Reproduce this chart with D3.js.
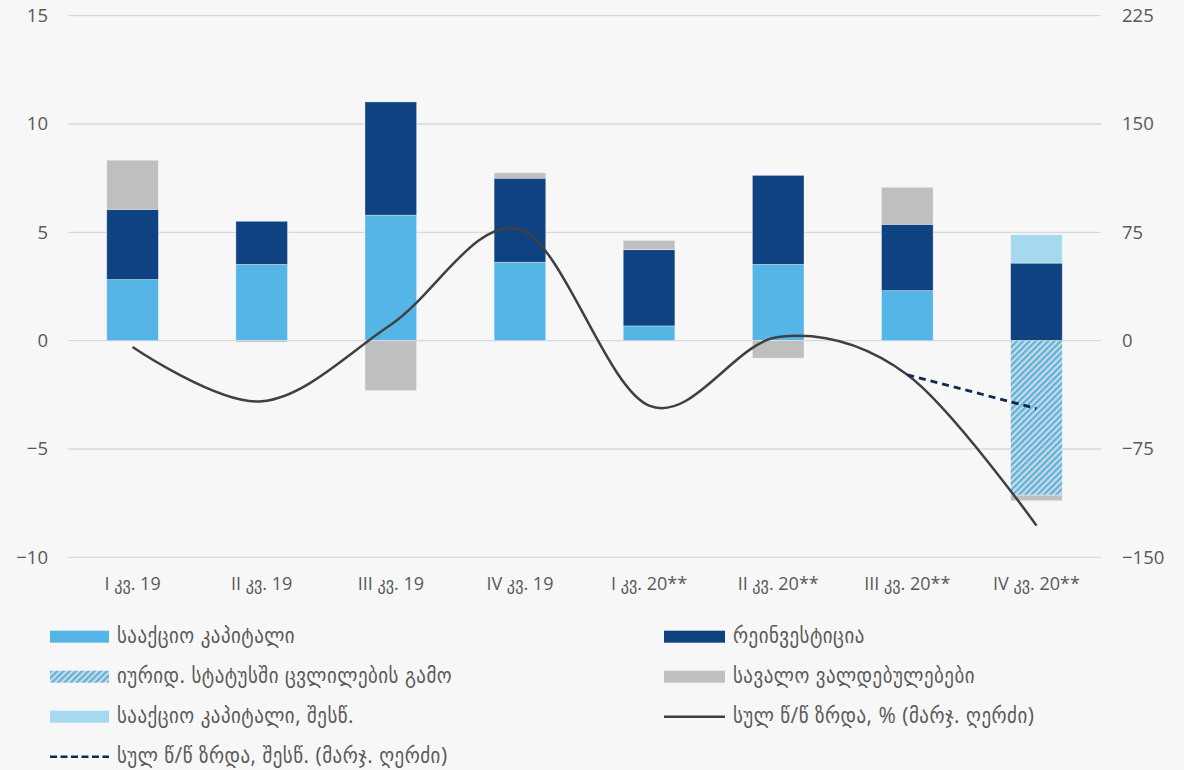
<!DOCTYPE html>
<html>
<head>
<meta charset="utf-8">
<script src="https://cdn.jsdelivr.net/npm/d3@7"></script>
<style>
  html, body { margin: 0; padding: 0; background: #f7f7f7; }
  svg { display: block; }
  text { font-family: "Open Sans", "DejaVu Sans Condensed", "DejaVu Sans", sans-serif; fill: #595959; }
</style>
</head>
<body>
<svg id="chart" width="1184" height="770"></svg>
<script>
// Quarters
const categories = ["I კვ. 19", "II კვ. 19", "III კვ. 19", "IV კვ. 19",
                    "I კვ. 20**", "II კვ. 20**", "III კვ. 20**", "IV კვ. 20**"];

// Stacked components (left axis)
const shareCapital    = [2.82, 3.52, 5.79, 3.62, 0.68, 3.52, 2.31, 0];
const reinvestment    = [3.24, 1.99, 5.23, 3.88, 3.52, 4.11, 3.06, 3.58];
const legalStatus     = [0, 0, 0, 0, 0, 0, 0, -7.13];
const debtLiabilities = [2.27, -0.07, -2.31, 0.25, 0.43, -0.81, 1.71, -0.26];
const shareCapitalAdj = [0, 0, 0, 0, 0, 0, 0, 1.31];

// Total y/y growth, % (right axis)
const totalGrowth    = [-4.4, -42, 11, 77, -45, 2.5, -23.6, -128];
const totalGrowthAdj = [null, null, null, null, null, null, -23.6, -47];

// Axis ticks
const leftTicks  = [-10, -5, 0, 5, 10, 15];
const rightTicks = [-150, -75, 0, 75, 150, 225];

const legendLabels = {
  share: "სააქციო კაპიტალი",
  reinv: "რეინვესტიცია",
  legal: "იურიდ. სტატუსში ცვლილების გამო",
  debt: "სავალო ვალდებულებები",
  shareAdj: "სააქციო კაპიტალი, შესწ.",
  growth: "სულ წ/წ ზრდა, % (მარჯ. ღერძი)",
  growthAdj: "სულ წ/წ ზრდა, შესწ. (მარჯ. ღერძი)"
};

const colors = {
  share: "#54b5e6",
  reinv: "#0f4280",
  debt: "#bfbfbf",
  shareAdj: "#a6d8f0",
  line: "#404040",
  dash: "#0d2b52"
};

const svg = d3.select("#chart");
const plot = { left: 68, right: 1101, top: 15.7, bottom: 557.3 };

const x = d3.scaleBand().domain(categories).range([plot.left, plot.right]).paddingInner(0.6).paddingOuter(0.3);
const xc = d => x(d) + x.bandwidth() / 2;
const yL = d3.scaleLinear().domain([-10, 15]).range([plot.bottom, plot.top]);
const yR = d3.scaleLinear().domain([-150, 225]).range([plot.bottom, plot.top]);

// Hatch pattern for the legal-status component
const defs = svg.append("defs");
const pat = defs.append("pattern")
  .attr("id", "hatch").attr("patternUnits", "userSpaceOnUse")
  .attr("width", 4.4).attr("height", 4.4)
  .attr("patternTransform", "rotate(45)");
pat.append("rect").attr("width", 4.4).attr("height", 4.4).attr("fill", "#d9d9d9");
pat.append("rect").attr("width", 2.3).attr("height", 4.4).attr("fill", colors.share);

// Gridlines
svg.append("g").selectAll("line").data(leftTicks).join("line")
  .attr("x1", plot.left).attr("x2", plot.right)
  .attr("y1", d => yL(d)).attr("y2", d => yL(d))
  .attr("stroke", "#d9d9d9").attr("stroke-width", 1.3);

// Axes (labels only)
const leftAxis = svg.append("g").attr("transform", `translate(${plot.left},0)`)
  .call(d3.axisLeft(yL).tickValues(leftTicks).tickSize(0).tickPadding(20));
const rightAxis = svg.append("g").attr("transform", `translate(${plot.right},0)`)
  .call(d3.axisRight(yR).tickValues(rightTicks).tickSize(0).tickPadding(21));
const bottomAxis = svg.append("g").attr("transform", `translate(0,${plot.bottom})`)
  .call(d3.axisBottom(x).tickSize(0).tickPadding(20));
[leftAxis, rightAxis, bottomAxis].forEach(g => {
  g.select(".domain").remove();
  g.selectAll("text").attr("font-size", 18.5).attr("fill", "#595959")
    .attr("font-family", "'Open Sans', 'DejaVu Sans Condensed', sans-serif");
});
bottomAxis.selectAll("text").attr("font-size", 18);

// Stacked bars
const keys = ["share", "reinv", "legal", "debt", "shareAdj"];
const table = categories.map((c, i) => ({
  cat: c,
  share: shareCapital[i],
  reinv: reinvestment[i],
  legal: legalStatus[i],
  debt: debtLiabilities[i],
  shareAdj: shareCapitalAdj[i]
}));
const series = d3.stack().keys(keys).offset(d3.stackOffsetDiverging)(table);
const fillFor = k => k === "legal" ? "url(#hatch)" : colors[k];

svg.append("g").selectAll("g").data(series).join("g")
  .attr("fill", s => fillFor(s.key))
  .selectAll("rect").data(s => s.filter(d => d[1] !== d[0])).join("rect")
  .attr("x", d => x(d.data.cat))
  .attr("width", x.bandwidth())
  .attr("y", d => yL(Math.max(d[0], d[1])))
  .attr("height", d => Math.abs(yL(d[0]) - yL(d[1])))
  .attr("stroke", "rgba(255,255,255,0.45)").attr("stroke-width", 0.8);

// Growth lines (right axis)
const lineGen = d3.line()
  .defined(d => d.v !== null)
  .x(d => xc(d.c)).y(d => yR(d.v))
  .curve(d3.curveCardinal.tension(0));

svg.append("path")
  .datum(categories.map((c, i) => ({ c, v: totalGrowth[i] })))
  .attr("d", lineGen)
  .attr("fill", "none").attr("stroke", colors.line).attr("stroke-width", 2.5);

svg.append("path")
  .datum(categories.map((c, i) => ({ c, v: totalGrowthAdj[i] })).filter(d => d.v !== null))
  .attr("d", d3.line().x(d => xc(d.c)).y(d => yR(d.v)))
  .attr("fill", "none").attr("stroke", colors.dash).attr("stroke-width", 2.8)
  .attr("stroke-dasharray", "7,5");

// Legend
const legendItems = [
  { key: "share", col: 0, row: 0, type: "rect" },
  { key: "reinv", col: 1, row: 0, type: "rect" },
  { key: "legal", col: 0, row: 1, type: "rect" },
  { key: "debt", col: 1, row: 1, type: "rect" },
  { key: "shareAdj", col: 0, row: 2, type: "rect" },
  { key: "growth", col: 1, row: 2, type: "line" },
  { key: "growthAdj", col: 0, row: 3, type: "dash" }
];
const colX = [50, 664];
const rowY = [636.7, 676.7, 716.7, 756.7];
const swW = [59, 61];

const lg = svg.append("g").selectAll("g").data(legendItems).join("g")
  .attr("transform", d => `translate(${colX[d.col]},${rowY[d.row]})`);

lg.filter(d => d.type === "rect").append("rect")
  .attr("x", 0).attr("y", -6).attr("width", d => swW[d.col]).attr("height", 12)
  .attr("fill", d => fillFor(d.key));
lg.filter(d => d.type === "line").append("line")
  .attr("x1", 0).attr("x2", d => swW[d.col]).attr("y1", 0).attr("y2", 0)
  .attr("stroke", colors.line).attr("stroke-width", 2.6);
lg.filter(d => d.type === "dash").append("line")
  .attr("x1", 0).attr("x2", d => swW[d.col]).attr("y1", 0).attr("y2", 0)
  .attr("stroke", colors.dash).attr("stroke-width", 2.6).attr("stroke-dasharray", "7,3.5");

lg.append("text")
  .attr("x", d => swW[d.col] + 8).attr("y", 0).attr("dy", "0.3em")
  .attr("font-size", 21).attr("letter-spacing", 0.5).attr("fill", "#595959")
  .attr("font-family", "'DejaVu Sans', sans-serif")
  .text(d => legendLabels[d.key]);
</script>
</body>
</html>
